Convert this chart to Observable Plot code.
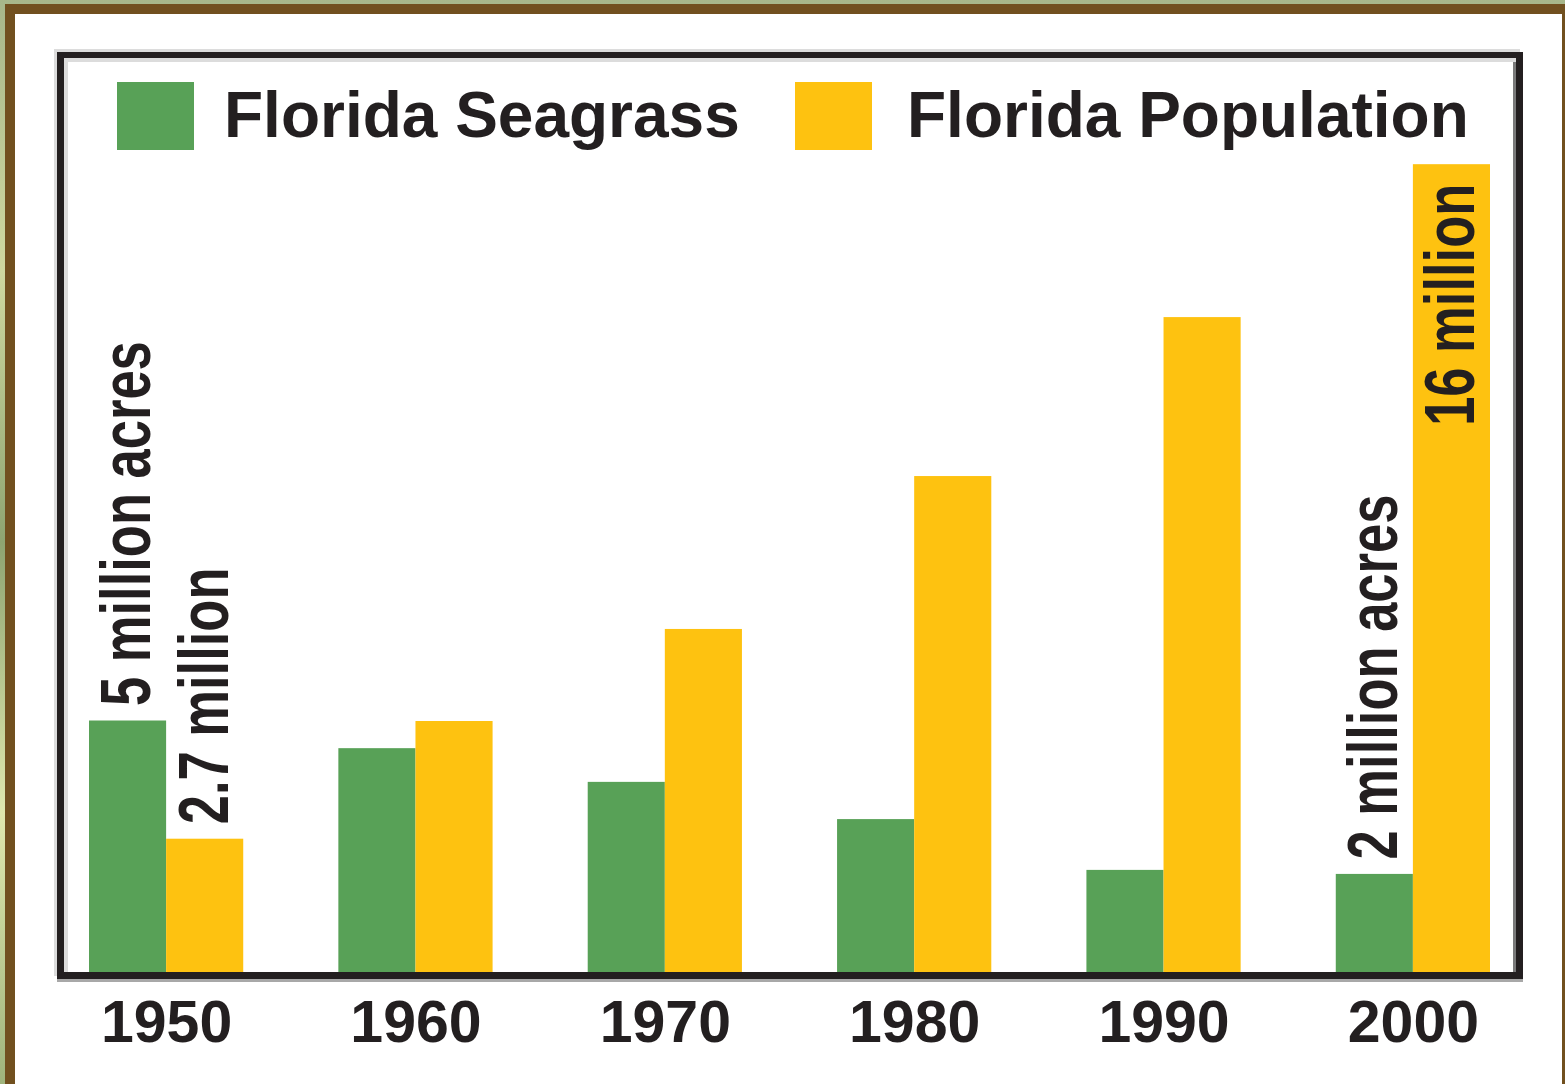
<!DOCTYPE html>
<html>
<head>
<meta charset="utf-8">
<script src="https://cdn.jsdelivr.net/npm/d3@7"></script>
<script src="https://cdn.jsdelivr.net/npm/@observablehq/plot@0.6"></script>
<style>
  html, body { margin: 0; padding: 0; }
  body { width: 1565px; height: 1084px; overflow: hidden; }
  #stage { position: relative; width: 1565px; height: 1084px; overflow: hidden;
    background: linear-gradient(180deg, #a7b78a 0%, #cfd9a0 25%, #8ea571 50%, #dfe8ae 75%, #9fb47c 100%); }
  #panel { position: absolute; left: 5px; top: 4px; width: 1560px; height: 1100px; box-sizing: border-box;
    border-left: 10px solid #71501f; border-top: 10px solid #71501f; border-right: 3px solid #71501f; background: #fff; }
  #frame { position: absolute; left: 57px; top: 52px; width: 1466px; height: 927px; box-sizing: border-box;
    border: 7px solid #231f20; border-top-width: 6px;
    box-shadow: 0 3px 0 #a8a8a8, -3px -3px 0 #dcdcdc, inset 4px 4px 0 #dcdcdc, inset -3px 0 0 #7a7a7a; }
  #chart { position: absolute; left: 0; top: 0; }
  #chart svg text { font-weight: 700; }
  .swatch { position: absolute; width: 77px; height: 68px; }
  .legend-label { position: absolute; font-family: 'Liberation Sans', Arial, sans-serif; font-weight: 700;
    font-size: 64px; line-height: 64px; color: #231f20; white-space: nowrap; }
</style>
</head>
<body>
<div id="stage">
  <div id="panel"></div>
  <div id="frame"></div>
  <div id="chart"></div>
  <div id="legend"></div>
</div>
<script>
// ---- data ----
const years = [1950, 1960, 1970, 1980, 1990, 2000];
const seriesNames = ["Florida Seagrass", "Florida Population"];
const seriesColors = ["#58a157", "#fec210"];
const seagrassMillionAcres = [5.0, 4.45, 3.78, 3.04, 2.03, 1.95];
const populationMillions = [2.65, 4.99, 6.82, 9.86, 13.02, 16.06];

// value labels written along bars
const aboveLabelYears = [1950, 1950, 2000];
const aboveLabelSeries = ["Florida Seagrass", "Florida Population", "Florida Seagrass"];
const aboveLabelTexts = ["5 million acres", "2.7 million", "2 million acres"];
const insideLabelYears = [2000];
const insideLabelSeries = ["Florida Population"];
const insideLabelTexts = ["16 million"];

// ---- tables ----
const table = years.flatMap((year, i) => [
  {year, series: seriesNames[0], value: seagrassMillionAcres[i]},
  {year, series: seriesNames[1], value: populationMillions[i]}
]);
const lookup = (year, series) => table.find(d => d.year === year && d.series === series).value;
const aboveLabels = aboveLabelTexts.map((text, i) => ({
  year: aboveLabelYears[i], series: aboveLabelSeries[i], text,
  value: lookup(aboveLabelYears[i], aboveLabelSeries[i])
}));
const insideLabels = insideLabelTexts.map((text, i) => ({
  year: insideLabelYears[i], series: insideLabelSeries[i], text,
  value: lookup(insideLabelYears[i], insideLabelSeries[i])
}));

const chart = Plot.plot({
  width: 1565,
  height: 1084,
  marginLeft: 89,
  marginRight: 75,
  marginTop: 60,
  marginBottom: 112,
  style: {background: "transparent", fontFamily: "'Liberation Sans', Arial, sans-serif", color: "#231f20", overflow: "visible"},
  fx: {domain: years, paddingInner: 0.3815, paddingOuter: 0, round: false, label: null},
  x: {domain: seriesNames, padding: 0, round: false, axis: null},
  y: {domain: [0, 18], range: [972, 972 - 18 * 50.3], axis: null},
  color: {domain: seriesNames, range: seriesColors},
  marks: [
    Plot.barY(table, {fx: "year", x: "series", y: "value", fill: "series"}),
    Plot.text(aboveLabels, {fx: "year", x: "series", y: "value", text: "text", rotate: -90,
      textAnchor: "start", dy: -15, fontSize: 70, fill: "#231f20"}),
    Plot.text(insideLabels, {fx: "year", x: "series", y: "value", text: "text", rotate: -90,
      textAnchor: "end", dy: 19, fontSize: 70, fill: "#231f20"}),
    Plot.axisFx({anchor: "bottom", tickSize: 0, tickPadding: 28, fontSize: 59, fill: "#231f20",
      tickFormat: d => String(d), label: null})
  ]
});
document.getElementById("chart").appendChild(chart);

// condense the rotated value labels (narrow bold face in the original)
const valueTexts = new Set([...aboveLabelTexts, ...insideLabelTexts]);
chart.querySelectorAll("text").forEach(t => {
  if (!valueTexts.has(t.textContent)) return;
  const len = t.getComputedTextLength();
  t.setAttribute("textLength", (len * 0.75).toFixed(1));
  t.setAttribute("lengthAdjust", "spacingAndGlyphs");
});

// ---- legend (inside the frame, top) ----
const legend = document.getElementById("legend");
const swatchLefts = [117, 795];
const labelLefts = [224, 907];
seriesNames.forEach((name, i) => {
  const sw = document.createElement("div");
  sw.className = "swatch";
  sw.style.left = swatchLefts[i] + "px";
  sw.style.top = "82px";
  sw.style.background = seriesColors[i];
  legend.appendChild(sw);
  const lb = document.createElement("div");
  lb.className = "legend-label";
  lb.style.left = labelLefts[i] + "px";
  lb.style.top = "83px";
  lb.textContent = name;
  legend.appendChild(lb);
});
</script>
</body>
</html>
